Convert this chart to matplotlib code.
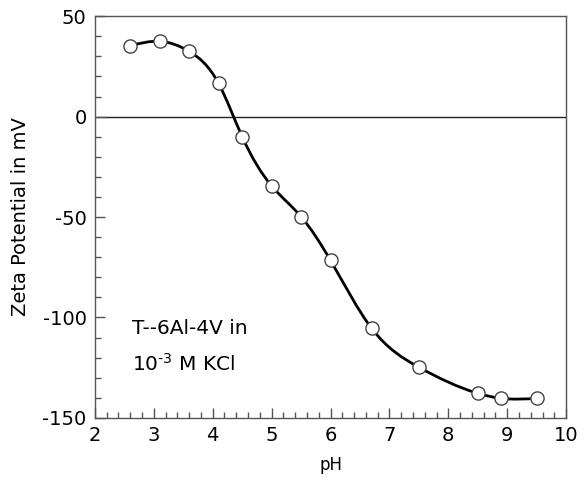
import matplotlib
matplotlib.use("Agg")
import matplotlib.pyplot as plt
import numpy as np
from matplotlib.path import Path
from matplotlib.patches import PathPatch

plt.rcParams["axes.unicode_minus"] = False
plt.rcParams["mathtext.default"] = "regular"

# zeta potential of Ti-6Al-4V vs pH
ph = [2.6, 3.1, 3.6, 4.1, 4.5, 5.0, 5.5, 6.0, 6.7, 7.5, 8.5, 8.9, 9.5]
zeta = [35.3, 37.5, 32.5, 16.5, -10.0, -34.5, -49.8, -71.6, -105.5, -124.8, -137.8, -140.3, -140.3]

xticks = [2, 3, 4, 5, 6, 7, 8, 9, 10]
yticks = [-150, -100, -50, 0, 50]


def spline_slopes(x, y):
    # natural cubic spline first derivatives at the knots
    n = len(x)
    h = np.diff(x)
    d = np.diff(y) / h
    A = np.zeros((n, n))
    b = np.zeros(n)
    A[0, 0], A[0, 1], b[0] = 2, 1, 3 * d[0]
    A[-1, -2], A[-1, -1], b[-1] = 1, 2, 3 * d[-1]
    for i in range(1, n - 1):
        A[i, i - 1] = h[i]
        A[i, i] = 2 * (h[i - 1] + h[i])
        A[i, i + 1] = h[i - 1]
        b[i] = 3 * (h[i] * d[i - 1] + h[i - 1] * d[i])
    return np.linalg.solve(A, b)


def smooth_path(x, y):
    x = np.asarray(x, float)
    y = np.asarray(y, float)
    m = spline_slopes(x, y)
    verts = [(x[0], y[0])]
    codes = [Path.MOVETO]
    for i in range(len(x) - 1):
        h = (x[i + 1] - x[i]) / 3.
        verts += [(x[i] + h, y[i] + m[i] * h),
                  (x[i + 1] - h, y[i + 1] - m[i + 1] * h),
                  (x[i + 1], y[i + 1])]
        codes += [Path.CURVE4] * 3
    return Path(verts, codes)


fig = plt.figure(figsize=(5.86, 4.91), dpi=100)
ax = fig.add_axes([0.162, 0.149, 0.804, 0.818])

ax.axhline(0, color="#222222", lw=1.0, zorder=1)
ax.add_patch(PathPatch(smooth_path(ph, zeta), facecolor="none", edgecolor="black", lw=2.0, zorder=2))
ax.plot(ph, zeta, "o", ms=9.5, mfc="white", mec="#444444", mew=1.0, zorder=3)

ax.set_xlim(2, 10)
ax.set_ylim(-150, 50)
ax.set_xticks(xticks)
ax.set_yticks(yticks)
ax.set_xticks(np.arange(2, 10.01, 0.2), minor=True)
ax.set_yticks(np.arange(-150, 50.1, 10), minor=True)
ax.tick_params(which="major", direction="in", length=7, width=1, color="#555555",
               labelsize=14, pad=6, top=False, right=False)
ax.tick_params(which="minor", direction="in", length=4, width=1, color="#555555",
               top=False, right=False)
for s in ax.spines.values():
    s.set_color("#555555")
    s.set_linewidth(1.0)

ax.set_xlabel("pH", fontsize=12, labelpad=8)
ax.set_ylabel("Zeta Potential in mV", fontsize=14, labelpad=9)

ax.text(2.63, -105.5, "T--6Al-4V in", fontsize=14.5, va="center", ha="left")
ax.text(2.63, -123, "10$^{\\text{-3}}$ M KCl", fontsize=14.5, va="center", ha="left")

fig.savefig("out.png", dpi=100)
